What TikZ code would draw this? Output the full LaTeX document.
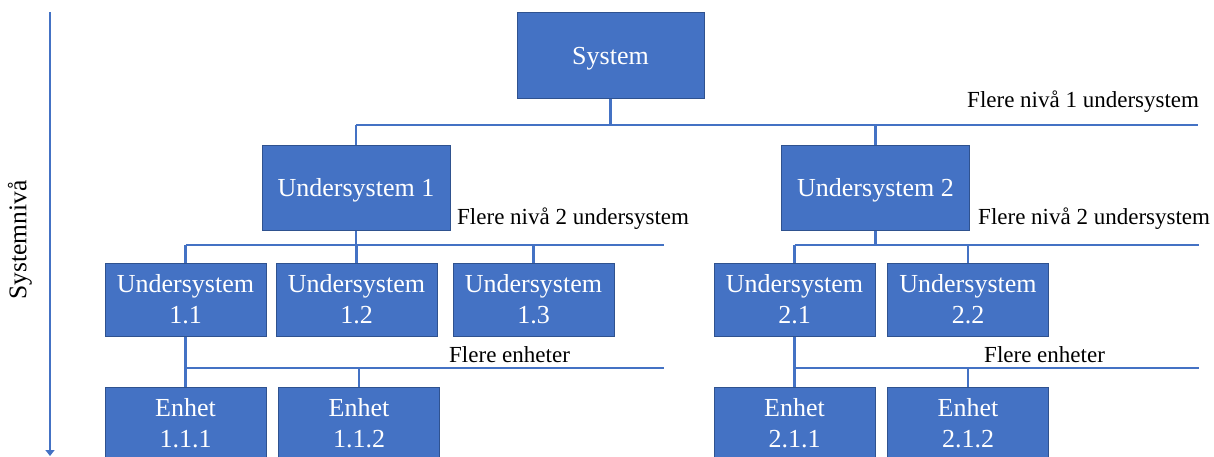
\documentclass[tikz,border=0pt]{standalone}
\usepackage{fontspec}
\setmainfont{Liberation Serif}
\usetikzlibrary{arrows.meta}
\definecolor{boxblue}{HTML}{4472C4}
\definecolor{boxedge}{HTML}{2F528F}
\tikzset{
  unit/.style={draw=boxedge, line width=1pt, fill=boxblue, text=white,
    inner sep=0pt, align=center, font=\fontsize{26}{31}\selectfont},
  oneline/.style={text height=24pt, text depth=6pt},
  topbox/.style={unit, oneline, minimum width=187pt, minimum height=86pt},
  midbox/.style={unit, oneline, minimum width=188pt, minimum height=85pt},
  leafbox/.style={unit, minimum width=161pt, minimum height=73pt},
  link/.style={draw=boxblue, line width=2.4pt},
  note/.style={inner sep=0pt, anchor=base west, font=\fontsize{23}{27}\selectfont},
}
\begin{document}
\begin{tikzpicture}[x=1pt, y=-1pt]
\useasboundingbox (0,0) rectangle (1214,456);
\clip (0,0) rectangle (1214,456);

% level axis
\coordinate (axTop) at (50,12);
\coordinate (axBot) at (50,456);
\draw[boxblue, line width=2pt, -{Triangle[width=9pt,length=6pt]}] (axTop) -- (axBot);
\node[rotate=90, inner sep=0pt, font=\fontsize{25.5}{30}\selectfont] (axlabel) at (20,240) {Systemnivå};

% boxes
\node[topbox] (sys) at (610.5,55) {System};
\node[midbox] (us1) at (356,187.5) {Undersystem 1};
\node[midbox] (us2) at (875.5,187.5) {Undersystem 2};
\node[leafbox] (us11) at (185.5,299.5) {Undersystem\\1.1};
\node[leafbox] (us12) at (356.5,299.5) {Undersystem\\1.2};
\node[leafbox] (us13) at (533.5,299.5) {Undersystem\\1.3};
\node[leafbox] (us21) at (794.5,299.5) {Undersystem\\2.1};
\node[leafbox] (us22) at (968,299.5) {Undersystem\\2.2};
\node[leafbox] (e111) at (185.5,423.5) {Enhet\\1.1.1};
\node[leafbox] (e112) at (359,423.5) {Enhet\\1.1.2};
\node[leafbox] (e211) at (794.5,423.5) {Enhet\\2.1.1};
\node[leafbox] (e212) at (968,423.5) {Enhet\\2.1.2};

% bus lines
\coordinate (b1L) at (356,125);   \coordinate (b1R) at (1198,125);
\coordinate (b2L) at (185.5,245); \coordinate (b2LE) at (664,245);
\coordinate (b2R) at (794.5,245); \coordinate (b2RE) at (1199,245);
\coordinate (b3L) at (185.5,368); \coordinate (b3LE) at (664,368);
\coordinate (b3R) at (794.5,368); \coordinate (b3RE) at (1199,368);

\draw[link] (b1L) -- (b1R);
\draw[link] (b2L) -- (b2LE);
\draw[link] (b2R) -- (b2RE);
\draw[link] (b3L) -- (b3LE);
\draw[link] (b3R) -- (b3RE);

% drops
\draw[link] (sys.south) -- (sys.south |- b1L);
\draw[link] (b1L) -- (us1.north);
\draw[link] (us2.north) -- (us2.north |- b1L);

\draw[link] (us1.south) -- (us1.south |- b2L);
\draw[link] (b2L) -- (us11.north);
\draw[link] (us12.north) -- (us12.north |- b2L);
\draw[link] (us13.north) -- (us13.north |- b2L);

\draw[link] (us2.south) -- (us2.south |- b2R);
\draw[link] (b2R) -- (us21.north);
\draw[link] (us22.north) -- (us22.north |- b2R);

\draw[link] (us11.south) -- (b3L);
\draw[link] (b3L) -- (e111.north);
\draw[link] (e112.north) -- (e112.north |- b3L);

\draw[link] (us21.south) -- (b3R);
\draw[link] (b3R) -- (e211.north);
\draw[link] (e212.north) -- (e212.north |- b3R);

% notes
\node[note] (n1) at (967,107) {Flere nivå 1 undersystem};
\node[note] (n2L) at (457,224) {Flere nivå 2 undersystem};
\node[note] (n2R) at (978,224) {Flere nivå 2 undersystem};
\node[note] (n3L) at (449,362) {Flere enheter};
\node[note] (n3R) at (984,362) {Flere enheter};
\end{tikzpicture}
\end{document}
